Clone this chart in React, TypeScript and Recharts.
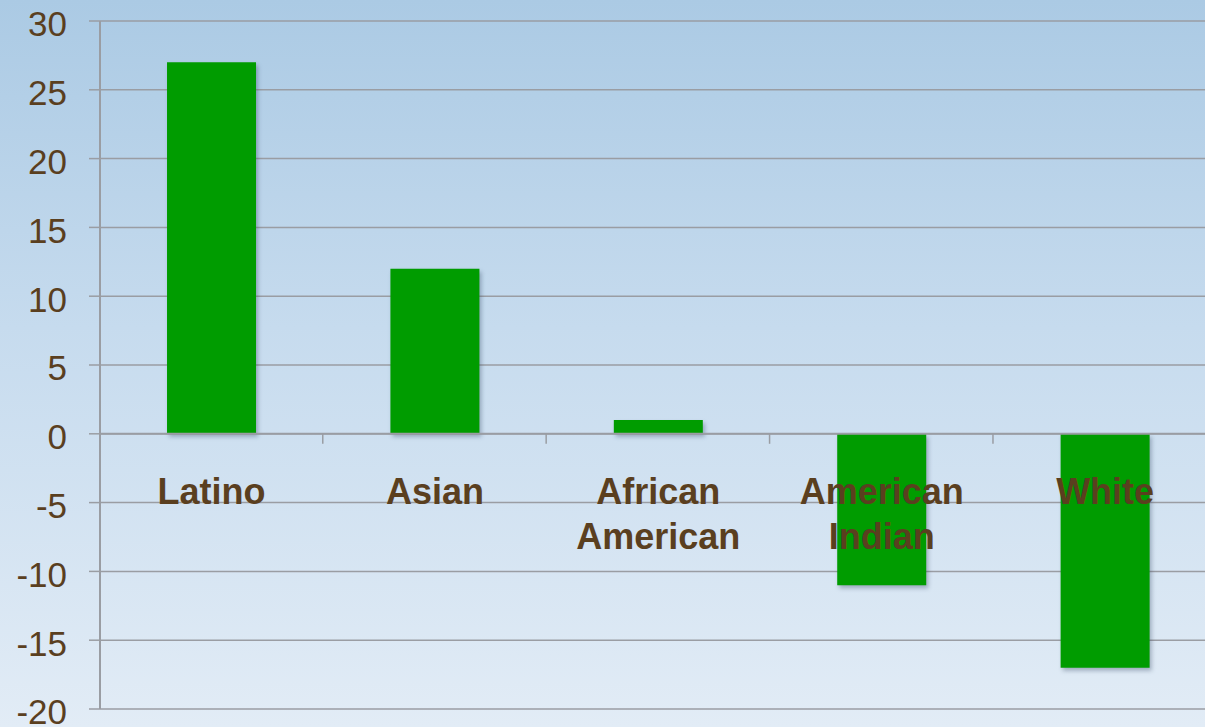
import React from 'react';
import { BarChart, Bar, XAxis, YAxis, CartesianGrid, ReferenceLine, LabelList } from 'recharts';

const categories = ['Latino', 'Asian', 'African American', 'American Indian', 'White'];
const changes = [27, 12, 1, -11, -17];
const yTicks = [-20, -15, -10, -5, 0, 5, 10, 15, 20, 25, 30];

const data = categories.map((name, i) => ({ name, value: changes[i] }));

const TEXT = '#5a3f1f';
const GRID = '#9a9da3';
const FONT = '"Liberation Sans", Arial, sans-serif';

const CategoryLabel = (props: any) => {
  const { x, y, width, height, index } = props;
  const v = changes[index];
  const top = Math.min(y, y + height);
  const bottom = Math.max(y, y + height);
  const zeroY = v >= 0 ? bottom : top;
  const cx = x + width / 2;
  const words = categories[index].split(' ');
  const band = width / 0.4;
  const tickX = cx + band / 2;
  return (
    <g>
      {index < categories.length - 1 && (
        <line x1={tickX} x2={tickX} y1={zeroY} y2={zeroY + 10} stroke={GRID} strokeWidth={1.5} />
      )}
      <text
        x={cx}
        y={zeroY + 57}
        textAnchor="middle"
        fill={TEXT}
        fontFamily={FONT}
        fontWeight="bold"
        fontSize={36}
      >
        {words.map((w: string, i: number) => (
          <tspan key={i} x={cx} dy={i === 0 ? 13 : 45}>
            {w}
          </tspan>
        ))}
      </text>
    </g>
  );
};

const YTick = (props: any) => {
  const { x, y, payload } = props;
  return (
    <text x={x} y={y + 3} dy="0.355em" textAnchor="end" fill={TEXT} fontSize={35} fontFamily={FONT}>
      {payload.value}
    </text>
  );
};

export default function App() {
  return (
    <div
      style={{
        position: 'absolute',
        left: 0,
        top: 0,
        width: 1205,
        height: 727,
        overflow: 'hidden',
        background: 'linear-gradient(to bottom, #abcae4 0%, #c6dbee 45%, #e2ecf6 100%)',
      }}
    >
      <BarChart
        width={1220}
        height={727}
        data={data}
        margin={{ top: 21, right: 3, bottom: 18, left: 0 }}
        barCategoryGap="30%"
      >
        <CartesianGrid vertical={false} stroke={GRID} strokeWidth={1.5} />
        <XAxis dataKey="name" hide />
        <YAxis
          width={100}
          domain={[-20, 30]}
          ticks={yTicks}
          interval={0}
          tickSize={11}
          tickMargin={22}
          axisLine={{ stroke: GRID, strokeWidth: 2 }}
          tickLine={{ stroke: GRID, strokeWidth: 1.5 }}
          tick={<YTick />}
        />
        <ReferenceLine y={0} stroke={GRID} strokeWidth={2} />
        <Bar
          dataKey="value"
          fill="#009c00"
          isAnimationActive={false}
          style={{ filter: 'drop-shadow(2px 3px 2px rgba(40,60,90,0.35))' }}
        >
          <LabelList dataKey="name" content={<CategoryLabel />} />
        </Bar>
      </BarChart>
    </div>
  );
}
